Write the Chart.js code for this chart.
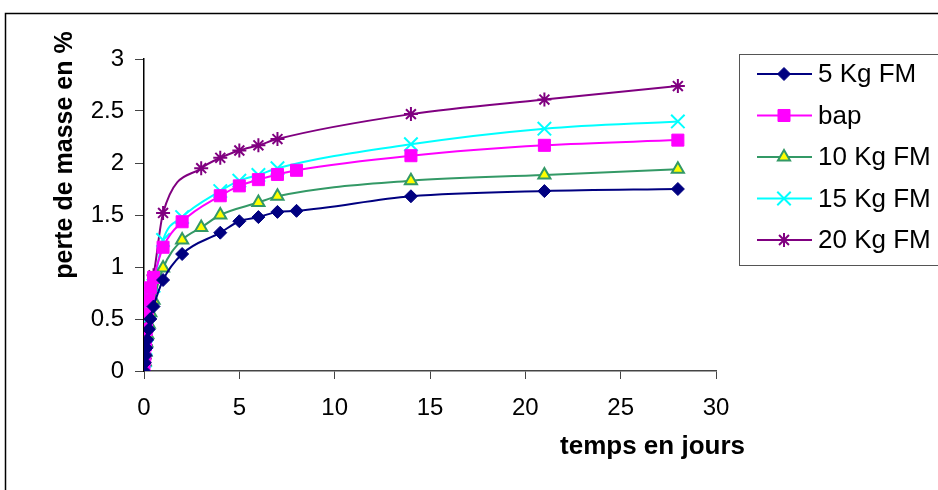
<!DOCTYPE html>
<html>
<head>
<meta charset="utf-8">
<script src="https://cdn.jsdelivr.net/npm/chart.js@4.4.1/dist/chart.umd.min.js"></script>
<style>
  html, body { margin: 0; padding: 0; background: #fff; }
  #wrap { width: 938px; height: 490px; }
</style>
</head>
<body>
<div id="wrap"><canvas id="lineChart" width="938" height="490"></canvas></div>
<script>
// temps en jours (mesures horaires au début puis journalières)
const jours = [0, 0.04, 0.08, 0.125, 0.17, 0.25, 0.33, 0.5, 1, 2, 3, 4, 5, 6, 7, 8, 14, 21, 28];

// perte de masse en % (null = pas de mesure)
const kg5  = [0, 0.08, 0.15, 0.22, 0.30, 0.40, 0.50, 0.62, 0.875, 1.125, null, 1.33, 1.44, 1.48, 1.53, 1.54, 1.68, 1.73, 1.75];
const bap  = [0, 0.12, 0.25, 0.40, 0.55, 0.68, 0.80, 0.90, 1.19, 1.435, null, 1.685, 1.78, 1.84, 1.89, 1.93, 2.07, 2.17, 2.22];
const kg10 = [0, 0.09, 0.18, 0.27, 0.35, 0.45, 0.56, 0.68, 0.99, 1.26, 1.38, 1.50, null, 1.62, 1.68, null, 1.83, 1.885, 1.94];
const kg15 = [0, 0.10, 0.22, 0.35, 0.45, 0.58, 0.70, 0.82, 1.26, 1.48, null, 1.73, 1.83, 1.885, 1.95, null, 2.18, 2.33, 2.40];
const kg20 = [0, 0.12, 0.25, 0.38, 0.50, 0.65, 0.80, 0.92, 1.52, null, 1.95, 2.05, 2.12, 2.17, 2.23, null, 2.47, 2.61, 2.74];

const xTicks = [0, 5, 10, 15, 20, 25, 30];
const yTicks = [0, 0.5, 1, 1.5, 2, 2.5, 3];

const FONT = "'Liberation Sans', Arial, sans-serif";

function points(vals) {
    const out = [];
    vals.forEach((v, i) => { if (v !== null) out.push({ x: jours[i], y: v }); });
    return out;
}

function serie(label, vals, color, style) {
    return Object.assign({
        label: label,
        data: points(vals),
        borderColor: color,
        backgroundColor: color,
        borderWidth: 2,
        pointBorderColor: color,
        pointBackgroundColor: color,
        pointBorderWidth: 1,
        cubicInterpolationMode: 'monotone',
        fill: false
    }, style);
}

const datasets = [
    serie('5 Kg FM', kg5, '#000080', { pointStyle: 'rectRot', pointRadius: 6.5 }),
    serie('bap', bap, '#ff00ff', { pointStyle: 'rect', pointRadius: 8.5 }),
    serie('10 Kg FM', kg10, '#339966', { pointStyle: 'triangle', pointRadius: 7, pointBackgroundColor: '#ffff00', pointBorderWidth: 2 }),
    serie('15 Kg FM', kg15, '#00ffff', { pointStyle: 'crossRot', pointRadius: 9.5, pointBorderWidth: 2 }),
    serie('20 Kg FM', kg20, '#800080', { pointStyle: 'star', pointRadius: 7, pointBorderWidth: 2 })
];

// cadre, titres des axes et légende dessinés à la main
const decor = {
    id: 'decor',
    afterDraw(chart) {
        const ctx = chart.ctx;
        ctx.save();
        // cadre extérieur
        ctx.strokeStyle = '#000';
        ctx.lineWidth = 1.5;
        ctx.strokeRect(5.5, 13.5, 1000, 1000);

        // titre axe Y
        ctx.fillStyle = '#000';
        ctx.font = "bold 25px " + FONT;
        ctx.textAlign = 'center';
        ctx.textBaseline = 'middle';
        ctx.save();
        ctx.translate(65, 155);
        ctx.rotate(-Math.PI / 2);
        ctx.fillText('perte de masse en %', 0, 0);
        ctx.restore();

        // titre axe X
        ctx.font = "bold 26px " + FONT;
        ctx.textAlign = 'right';
        ctx.fillText('temps en jours', 745, 447);

        // légende
        ctx.strokeStyle = '#555';
        ctx.lineWidth = 1;
        ctx.strokeRect(739.5, 54.5, 300, 211);
        chart.data.datasets.forEach((ds, i) => {
            const y = 74 + i * 41.5;
            ctx.strokeStyle = ds.borderColor;
            ctx.lineWidth = 2;
            ctx.beginPath();
            ctx.moveTo(757, y);
            ctx.lineTo(812, y);
            ctx.stroke();
            ctx.fillStyle = ds.pointBackgroundColor;
            ctx.strokeStyle = ds.pointBorderColor;
            ctx.lineWidth = ds.pointBorderWidth;
            Chart.helpers.drawPoint(ctx, {
                pointStyle: ds.pointStyle,
                rotation: 0,
                radius: ds.pointRadius,
                borderWidth: ds.pointBorderWidth
            }, 784, y);
            ctx.fillStyle = '#000';
            ctx.font = "26px " + FONT;
            ctx.textAlign = 'left';
            ctx.textBaseline = 'middle';
            ctx.fillText(ds.label, 818, y + 1);
        });
        ctx.restore();
    }
};

new Chart(document.getElementById('lineChart').getContext('2d'), {
    type: 'line',
    data: { datasets: datasets },
    plugins: [decor],
    options: {
        responsive: false,
        animation: false,
        layout: { padding: { left: 0, top: 59, right: 222, bottom: 0 } },
        plugins: {
            legend: { display: false },
            tooltip: { enabled: false }
        },
        scales: {
            x: {
                type: 'linear',
                min: 0,
                max: 30,
                afterFit: (s) => { s.height = 119; },
                afterBuildTicks: (s) => { s.ticks = xTicks.map(v => ({ value: v })); },
                grid: { drawOnChartArea: false, drawTicks: true, tickLength: 8, tickColor: '#444' },
                border: { display: true, color: '#444', width: 1.5 },
                ticks: {
                    color: '#000', font: { family: FONT, size: 24 }, padding: 15,
                    maxRotation: 0, autoSkip: false, callback: (v) => String(v)
                }
            },
            y: {
                min: 0,
                max: 3,
                afterFit: (s) => { s.width = 144; },
                afterBuildTicks: (s) => { s.ticks = yTicks.map(v => ({ value: v })); },
                grid: { drawOnChartArea: false, drawTicks: true, tickLength: 9, tickColor: '#444' },
                border: { display: true, color: '#000', width: 1.5 },
                ticks: { color: '#000', font: { family: FONT, size: 24 }, padding: 11, callback: (v) => String(v) }
            }
        }
    }
});
</script>
</body>
</html>
